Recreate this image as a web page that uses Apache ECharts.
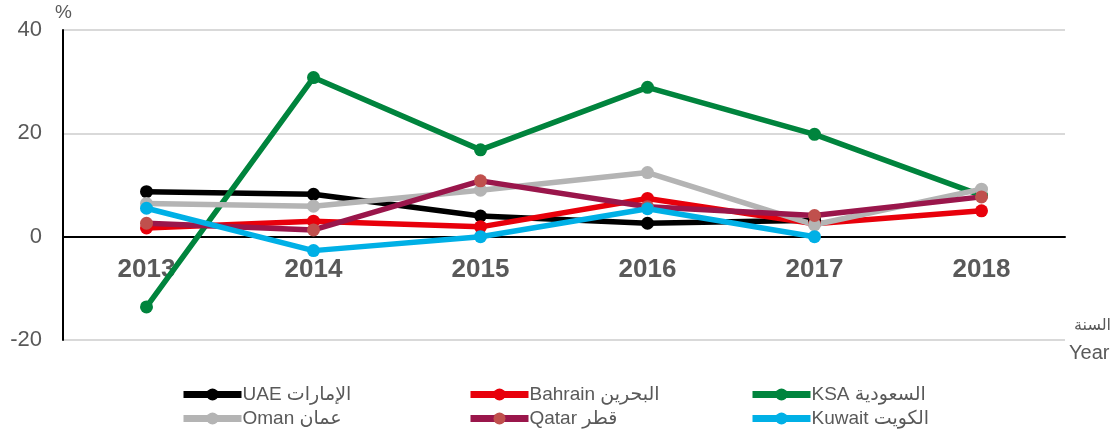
<!DOCTYPE html>
<html>
<head>
<meta charset="utf-8">
<script src="https://cdn.jsdelivr.net/npm/echarts@6/dist/echarts.min.js"></script>
<style>
  html, body { margin: 0; padding: 0; background: #fff; }
  #chart { width: 1119px; height: 434px; }
</style>
</head>
<body>
<div id="chart"></div>
<script>
const years = ['2013', '2014', '2015', '2016', '2017', '2018']
const yTicks = { min: -20, max: 40, interval: 20 }

const uae = [8.7, 8.2, 4.0, 2.6, 3.2, null]
const bahrain = [1.7, 3.0, 1.9, 7.4, 2.5, 5.0]
const ksa = [-13.6, 30.8, 16.8, 28.9, 19.8, 8.0]
const oman = [6.4, 5.9, 9.0, 12.4, 2.3, 9.2]
const qatar = [2.6, 1.3, 10.8, 5.8, 4.1, 7.7]
const kuwait = [5.5, -2.7, 0.0, 5.4, 0.0, null]

const names = {
  uae: 'UAE الإمارات',
  bahrain: 'Bahrain البحرين',
  ksa: 'KSA السعودية',
  oman: 'Oman عمان',
  qatar: 'Qatar قطر',
  kuwait: 'Kuwait الكويت',
}

const font = '"Liberation Sans", Arial, "DejaVu Sans", sans-serif'
const grey = '#595959'

function line(name, data, color, markerColor) {
  return {
    name,
    type: 'line',
    data,
    z: 3,
    symbol: 'circle',
    symbolSize: 13,
    connectNulls: false,
    lineStyle: { color, width: 5.5 },
    itemStyle: { color: markerColor || color },
    emphasis: { disabled: true },
    animation: false,
  }
}

function legendCol(left, items) {
  return {
    left,
    top: 385,
    padding: 0,
    orient: 'vertical',
    itemGap: 5,
    itemWidth: 58,
    itemHeight: 15,
    data: items,
    lineStyle: { width: 7 },
    textStyle: { fontFamily: font, fontSize: 19, color: grey, padding: [0, 0, 0, -4] },
    selectedMode: false,
  }
}

const chart = echarts.init(document.getElementById('chart'))
chart.setOption({
  backgroundColor: '#fff',
  animation: false,
  grid: { left: 63, right: 54, top: 30, bottom: 94 },
  legend: [
    legendCol(180, [names.uae, names.oman]),
    legendCol(467, [names.bahrain, names.qatar]),
    legendCol(749, [names.ksa, names.kuwait]),
  ],
  xAxis: {
    type: 'category',
    data: years,
    z: 1,
    boundaryGap: true,
    axisLine: { onZero: true, lineStyle: { color: '#000', width: 2 } },
    axisTick: { show: false },
    axisLabel: { fontFamily: font, fontSize: 26, fontWeight: 'bold', color: grey, margin: -83 },
  },
  yAxis: {
    type: 'value',
    min: yTicks.min,
    max: yTicks.max,
    interval: yTicks.interval,
    axisLine: { show: true, lineStyle: { color: '#000', width: 2 } },
    axisTick: { show: false },
    axisLabel: { fontFamily: font, fontSize: 22, color: grey, margin: 21 },
    splitLine: { lineStyle: { color: '#d9d9d9', width: 2 } },
  },
  graphic: [
    { type: 'text', left: 55, top: 3, style: { text: '%', font: '19px ' + font, fill: grey } },
    { type: 'text', left: 1074, top: 318, style: { text: 'السنة', font: '16px ' + font, fill: grey } },
    { type: 'text', left: 1069, top: 343, style: { text: 'Year', font: '20px ' + font, fill: grey } },
  ],
  series: [
    line(names.uae, uae, '#000000'),
    line(names.bahrain, bahrain, '#e8000b'),
    line(names.ksa, ksa, '#00843d'),
    line(names.oman, oman, '#b4b4b4'),
    line(names.qatar, qatar, '#9a164b', '#c0504d'),
    line(names.kuwait, kuwait, '#00b0e6'),
  ],
})
</script>
</body>
</html>
